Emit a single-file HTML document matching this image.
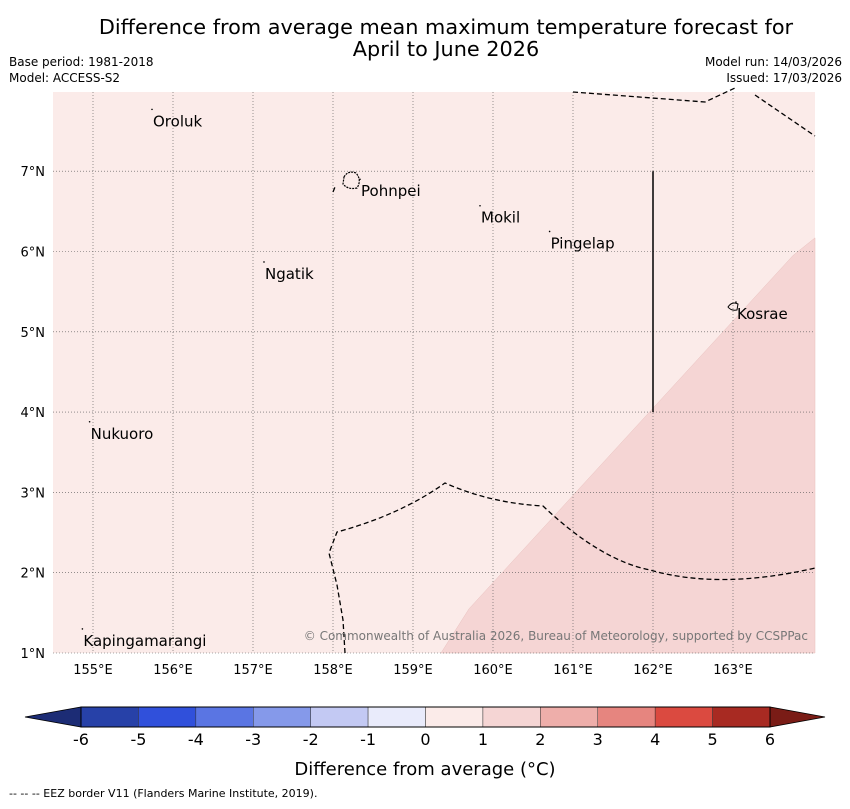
<!DOCTYPE html>
<html><head><meta charset="utf-8">
<style>
body{margin:0;background:#fff;width:850px;height:804px;overflow:hidden;font-family:"Liberation Sans","DejaVu Sans",sans-serif;}
svg text{font-family:"DejaVu Sans","Liberation Sans",sans-serif;}
</style></head>
<body>
<svg id="c" width="850" height="804" xmlns="http://www.w3.org/2000/svg">
<text x="446" y="34" font-size="20.8" text-anchor="middle">Difference from average mean maximum temperature forecast for</text>
<text x="446" y="56" font-size="20.8" text-anchor="middle">April to June 2026</text>
<text x="9" y="66" font-size="12">Base period: 1981-2018</text>
<text x="9" y="82" font-size="12">Model: ACCESS-S2</text>
<text x="842" y="66" font-size="12" text-anchor="end">Model run: 14/03/2026</text>
<text x="842" y="82" font-size="12" text-anchor="end">Issued: 17/03/2026</text>
<g id="map"></g>
<g id="cbar"></g>
<text x="425" y="775" font-size="18" text-anchor="middle">Difference from average (°C)</text>
<text x="9" y="797" font-size="11">--  --  -- EEZ border V11 (Flanders Marine Institute, 2019).</text>
</svg>
<script>
const lonTicks=[155,156,157,158,159,160,161,162,163];
const latTicks=[1,2,3,4,5,6,7];
const places=["Oroluk","Pohnpei","Mokil","Pingelap","Ngatik","Kosrae","Nukuoro","Kapingamarangi"];
const placeLon=[155.75,158.35,159.85,160.72,157.15,163.05,154.97,154.88];
const placeLat=[7.72,6.85,6.52,6.2,5.82,5.32,3.83,1.25];
const cbLevels=[-6,-5,-4,-3,-2,-1,0,1,2,3,4,5,6];
const cbColors=["#2741a8","#3050db","#5a75e3","#8599ea","#c3c9f3","#e9ebfb","#fbebe9","#f5d5d4","#eeaeaa","#e6857f","#db4a40","#a82a22"];
const ns="http://www.w3.org/2000/svg";
const X=lon=>93+(lon-155)*80.0;
const Y=lat=>653-(lat-1)*80.3;
function el(t,a,p){const e=document.createElementNS(ns,t);for(const k in a)e.setAttribute(k,a[k]);p.appendChild(e);return e;}
const map=document.getElementById('map');
const x0=53,x1=815,y0=92,y1=653;
let bg=el('rect',{x:x0,y:y0,width:x1-x0,height:y1-y0,fill:'#fbebe9'},map);


let warm=el('polygon',{points:`${X(159.35)},${y1} ${x1},${y1} ${x1},${Y(6.17)} ${X(163.75)},${Y(5.95)} ${X(159.7)},${Y(1.55)}`,fill:'#f5d5d4',stroke:'#e8c0be','stroke-width':0.5},map);


lonTicks.forEach(l=>{
 let g=el('line',{x1:X(l),x2:X(l),y1:y0,y2:y1,stroke:'#555','stroke-width':0.6,'stroke-dasharray':'1,2'},map);
 
 let t=el('text',{x:X(l),y:674,'font-size':13,'text-anchor':'middle'},map);t.textContent=l+'°E';
 
});
latTicks.forEach(l=>{
 let g=el('line',{x1:x0,x2:x1,y1:Y(l),y2:Y(l),stroke:'#555','stroke-width':0.6,'stroke-dasharray':'1,2'},map);
 
 let t=el('text',{x:45,y:Y(l)+5,'font-size':13,'text-anchor':'end'},map);t.textContent=l+'°N';
 
});
const eez=[
 `M573,92 L705,102 L735,88 M755,95 L815,136`,
 `M345,653 L343,620 L337,585 L329,553 L337,532 Q400,515 445,483 Q490,503 543,506 Q600,560 650,570 Q720,590 815,568`,
 `M333,192 L335,187`
];
eez.forEach(d=>{let p=el('path',{d:d,fill:'none',stroke:'#000','stroke-width':1.3,'stroke-dasharray':'5,3'},map);
 });
let vl=el('line',{x1:X(162),x2:X(162),y1:Y(7),y2:Y(4),stroke:'#000','stroke-width':1.5},map);

let isl=el('path',{d:'M344,177 Q348,170 356,173 Q362,180 357,188 Q348,190 343,184 Z',fill:'none',stroke:'#000','stroke-width':1.2,'stroke-dasharray':'2,1'},map);

let ks=el('path',{d:'M728,307 Q732,301 738,304 L737,310 Q731,311 728,307 Z',fill:'none',stroke:'#000','stroke-width':1},map);

places.forEach((n,i)=>{
 let d=el('circle',{cx:X(placeLon[i])-1,cy:Y(placeLat[i])-4,r:0.8,fill:'#000'},map);
 
 let t=el('text',{x:X(placeLon[i]),y:Y(placeLat[i])+13,'font-size':15},map);t.textContent=n;
 
});
let cp=el('text',{x:808,y:640,'font-size':12,'text-anchor':'end',fill:'#777'},map);
cp.textContent='© Commonwealth of Australia 2026, Bureau of Meteorology, supported by CCSPPac';

const cb=document.getElementById('cbar');
const bx0=81,bx1=770,by0=707,by1=727,bw=(bx1-bx0)/cbColors.length;
let lt=el('polygon',{points:`25,717 ${bx0},${by0} ${bx0},${by1}`,fill:'#1c2c75',stroke:'#000','stroke-width':0.8},cb);

let rt=el('polygon',{points:`825,717 ${bx1},${by0} ${bx1},${by1}`,fill:'#7a1c16',stroke:'#000','stroke-width':0.8},cb);

cbColors.forEach((c,i)=>{let r=el('rect',{x:bx0+i*bw,y:by0,width:bw,height:by1-by0,fill:c,stroke:'#333','stroke-width':0.5},cb);
 });
let fr=el('rect',{x:bx0,y:by0,width:bx1-bx0,height:by1-by0,fill:'none',stroke:'#000','stroke-width':1},cb);

cbLevels.forEach((v,i)=>{let t=el('text',{x:bx0+i*bw,y:745,'font-size':16,'text-anchor':'middle'},cb);t.textContent=v;
 });
</script>
</body></html>
